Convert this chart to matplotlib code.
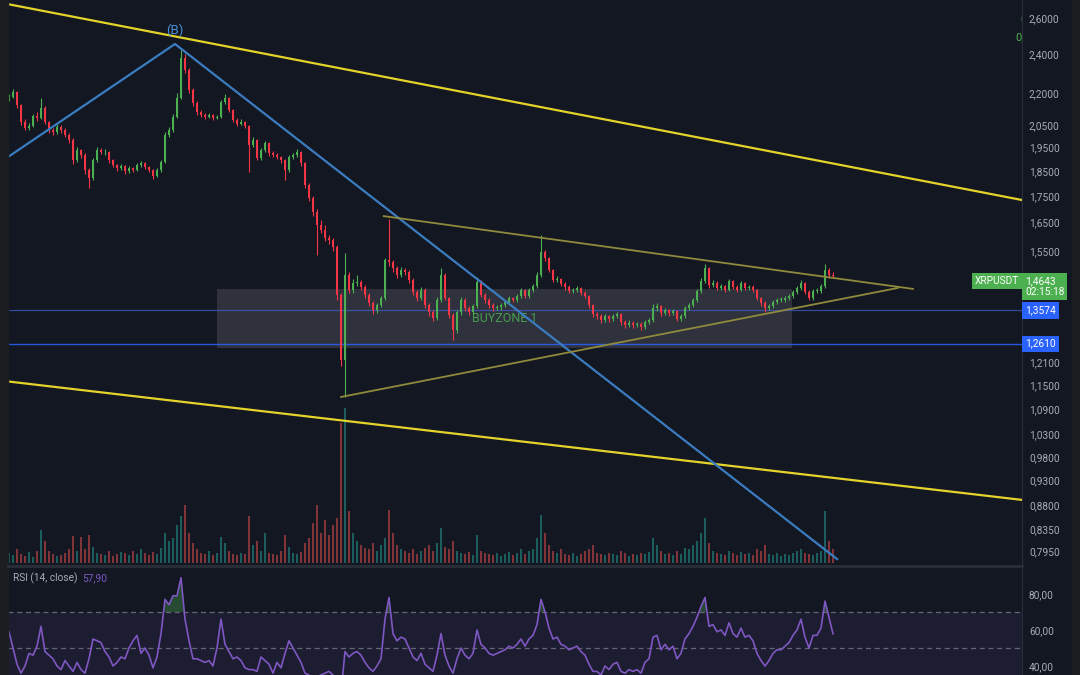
import matplotlib
matplotlib.use("Agg")
import matplotlib.pyplot as plt
import numpy as np
from matplotlib.patches import Rectangle
import matplotlib.ticker as mticker
import matplotlib.transforms as mtrans

plt.rcParams['font.family'] = ['Roboto', 'DejaVu Sans']

# ---------------- data ----------------
first_open = 2.170
closes = [2.182, 2.206, 2.143, 2.064, 2.036, 2.045, 2.091, 2.082, 2.129, 2.064,
          2.027, 2.018, 2.041, 2.027, 2.005, 1.982, 1.896, 1.939, 1.918, 1.854,
          1.822, 1.896, 1.939, 1.930, 1.930, 1.896, 1.875, 1.862, 1.871, 1.850,
          1.862, 1.854, 1.875, 1.883, 1.866, 1.854, 1.830, 1.854, 1.888, 2.005,
          2.027, 2.087, 2.177, 2.379, 2.316, 2.216, 2.153, 2.110, 2.096, 2.087,
          2.096, 2.082, 2.087, 2.157, 2.177, 2.119, 2.073, 2.054, 2.064, 2.045,
          1.961, 1.982, 1.905, 1.939, 1.969, 1.926, 1.918, 1.909, 1.896, 1.854,
          1.909, 1.918, 1.930, 1.883, 1.794, 1.743, 1.689, 1.641, 1.623, 1.594,
          1.587, 1.562, 1.405, 1.215, 1.469, 1.420, 1.442, 1.446, 1.430, 1.405,
          1.380, 1.358, 1.373, 1.395, 1.518, 1.511, 1.491, 1.469, 1.485, 1.478,
          1.452, 1.414, 1.395, 1.420, 1.373, 1.352, 1.334, 1.389, 1.469, 1.395,
          1.343, 1.299, 1.352, 1.389, 1.364, 1.352, 1.370, 1.446, 1.405, 1.389,
          1.373, 1.364, 1.367, 1.373, 1.383, 1.395, 1.389, 1.401, 1.420, 1.401,
          1.420, 1.433, 1.469, 1.545, 1.525, 1.485, 1.452, 1.455, 1.439, 1.430,
          1.417, 1.420, 1.426, 1.411, 1.401, 1.373, 1.346, 1.340, 1.328, 1.340,
          1.331, 1.340, 1.346, 1.322, 1.314, 1.320, 1.314, 1.317, 1.308, 1.322,
          1.328, 1.364, 1.370, 1.349, 1.358, 1.349, 1.355, 1.331, 1.340, 1.364,
          1.373, 1.389, 1.417, 1.449, 1.491, 1.436, 1.442, 1.426, 1.433, 1.420,
          1.449, 1.430, 1.420, 1.442, 1.426, 1.430, 1.420, 1.395, 1.380, 1.364,
          1.370, 1.383, 1.389, 1.389, 1.395, 1.401, 1.414, 1.426, 1.442, 1.414,
          1.395, 1.417, 1.417, 1.433, 1.485, 1.469, 1.4643]

highs = [2.195, 2.222, 2.212, 2.150, 2.075, 2.058, 2.100, 2.110, 2.177, 2.140,
         2.070, 2.035, 2.055, 2.050, 2.035, 2.012, 1.990, 1.950, 1.945, 1.925,
         1.862, 1.905, 1.950, 1.948, 1.942, 1.935, 1.902, 1.880, 1.880, 1.876,
         1.870, 1.868, 1.885, 1.892, 1.890, 1.872, 1.860, 1.862, 1.898, 2.020,
         2.040, 2.100, 2.200, 2.422, 2.400, 2.325, 2.225, 2.160, 2.118, 2.105,
         2.105, 2.102, 2.098, 2.165, 2.196, 2.182, 2.125, 2.080, 2.075, 2.070,
         2.050, 1.995, 1.988, 1.948, 1.978, 1.975, 1.935, 1.925, 1.915, 1.902,
         1.918, 1.928, 1.945, 1.936, 1.890, 1.800, 1.750, 1.700, 1.660, 1.640,
         1.605, 1.595, 1.570, 1.412, 1.542, 1.480, 1.455, 1.468, 1.452, 1.436,
         1.410, 1.386, 1.380, 1.402, 1.525, 1.663, 1.520, 1.498, 1.495, 1.492,
         1.484, 1.458, 1.420, 1.430, 1.426, 1.380, 1.360, 1.398, 1.491, 1.474,
         1.400, 1.350, 1.360, 1.398, 1.395, 1.370, 1.378, 1.462, 1.452, 1.412,
         1.395, 1.380, 1.375, 1.380, 1.390, 1.402, 1.400, 1.408, 1.428, 1.425,
         1.428, 1.440, 1.478, 1.605, 1.552, 1.530, 1.490, 1.465, 1.460, 1.445,
         1.436, 1.428, 1.434, 1.430, 1.416, 1.406, 1.378, 1.352, 1.346, 1.348,
         1.345, 1.348, 1.354, 1.350, 1.328, 1.328, 1.325, 1.324, 1.322, 1.330,
         1.336, 1.378, 1.380, 1.375, 1.366, 1.362, 1.362, 1.360, 1.348, 1.370,
         1.380, 1.396, 1.425, 1.458, 1.505, 1.496, 1.452, 1.448, 1.440, 1.438,
         1.456, 1.454, 1.436, 1.450, 1.446, 1.438, 1.436, 1.424, 1.400, 1.385,
         1.378, 1.390, 1.396, 1.398, 1.402, 1.408, 1.420, 1.434, 1.452, 1.446,
         1.420, 1.424, 1.426, 1.440, 1.505, 1.492, 1.478]

lows = [2.160, 2.175, 2.130, 2.050, 2.025, 2.028, 2.040, 2.070, 2.075, 2.055,
        2.015, 2.005, 2.010, 2.015, 1.995, 1.970, 1.880, 1.890, 1.905, 1.840,
        1.782, 1.815, 1.890, 1.920, 1.918, 1.885, 1.865, 1.852, 1.855, 1.840,
        1.843, 1.846, 1.850, 1.868, 1.858, 1.845, 1.818, 1.825, 1.848, 1.882,
        1.995, 2.020, 2.080, 2.170, 2.300, 2.200, 2.140, 2.098, 2.085, 2.078,
        2.080, 2.072, 2.075, 2.080, 2.150, 2.108, 2.062, 2.045, 2.048, 2.035,
        1.846, 1.950, 1.895, 1.898, 1.932, 1.915, 1.908, 1.900, 1.885, 1.814,
        1.848, 1.900, 1.910, 1.872, 1.780, 1.730, 1.675, 1.535, 1.612, 1.585,
        1.575, 1.550, 1.389, 1.200, 1.120, 1.410, 1.412, 1.432, 1.420, 1.395,
        1.370, 1.348, 1.350, 1.368, 1.390, 1.500, 1.480, 1.460, 1.462, 1.470,
        1.442, 1.405, 1.385, 1.388, 1.365, 1.342, 1.325, 1.330, 1.382, 1.388,
        1.335, 1.270, 1.292, 1.345, 1.356, 1.345, 1.346, 1.365, 1.398, 1.380,
        1.366, 1.356, 1.358, 1.360, 1.368, 1.378, 1.382, 1.384, 1.396, 1.394,
        1.396, 1.415, 1.428, 1.462, 1.515, 1.478, 1.445, 1.446, 1.432, 1.422,
        1.410, 1.410, 1.414, 1.404, 1.394, 1.366, 1.338, 1.332, 1.320, 1.322,
        1.324, 1.326, 1.334, 1.314, 1.306, 1.308, 1.306, 1.308, 1.300, 1.302,
        1.316, 1.322, 1.356, 1.342, 1.344, 1.342, 1.344, 1.325, 1.326, 1.336,
        1.358, 1.368, 1.384, 1.412, 1.444, 1.428, 1.430, 1.420, 1.420, 1.414,
        1.416, 1.424, 1.414, 1.416, 1.420, 1.420, 1.414, 1.388, 1.372, 1.352,
        1.360, 1.366, 1.378, 1.382, 1.384, 1.390, 1.396, 1.408, 1.420, 1.408,
        1.390, 1.390, 1.410, 1.412, 1.428, 1.460, 1.458]

volume_m = [10, 8, 14, 9, 7, 11, 6, 12, 33, 22,
            12, 9, 7, 8, 10, 14, 27, 12, 26, 14,
            28, 16, 10, 9, 8, 12, 7, 9, 11, 10,
            8, 12, 9, 14, 10, 8, 11, 9, 15, 30,
            22, 25, 38, 47, 58, 30, 20, 14, 10, 9,
            12, 8, 10, 26, 20, 12, 9, 8, 10, 9,
            47, 18, 22, 12, 30, 10, 9, 8, 12, 28,
            16, 10, 9, 11, 20, 25, 40, 58, 30, 43,
            28, 38, 45, 140, 155, 52, 30, 22, 18, 15,
            14, 20, 12, 18, 25, 53, 30, 18, 14, 12,
            10, 14, 9, 12, 15, 18, 12, 20, 35, 16,
            14, 22, 12, 10, 9, 11, 8, 28, 12, 10,
            9, 8, 10, 7, 9, 11, 8, 10, 14, 9,
            12, 14, 25, 48, 30, 18, 12, 10, 14, 9,
            8, 10, 7, 9, 12, 14, 18, 10, 9, 8,
            10, 9, 8, 12, 10, 7, 9, 8, 10, 9,
            11, 25, 18, 12, 9, 10, 8, 12, 9, 15,
            14, 18, 22, 30, 45, 20, 12, 10, 9, 8,
            12, 10, 8, 11, 9, 10, 8, 14, 12, 18,
            9, 8, 10, 7, 9, 8, 10, 12, 14, 10,
            9, 8, 10, 12, 52, 22, 14]

rsi_values = [59, 50, 41, 36, 40, 47, 46, 51, 62, 48,
              46, 44, 40, 38, 43, 40, 37, 42, 38, 36,
              44, 55, 54, 53, 48, 45, 40, 42, 45, 44,
              50, 54, 57, 47, 50, 46, 39, 45, 58, 77,
              74, 79, 79, 89, 66, 54, 44, 44, 43, 42,
              43, 40, 50, 66, 52, 48, 44, 45, 43, 39,
              38, 38, 37, 45, 43, 41, 36, 42, 39, 47,
              54, 50, 46, 42, 36, 35, 33, 34, 35, 36,
              37, 35, 30, 25, 48, 45, 47, 48, 46, 42,
              39, 37, 40, 44, 66, 78, 58, 54, 56, 55,
              50, 45, 43, 47, 41, 39, 37, 46, 58, 46,
              40, 36, 44, 50, 46, 44, 47, 60, 52, 50,
              47, 46, 47, 48, 49, 51, 50, 52, 55, 51,
              55, 57, 63, 77, 70, 61, 55, 56, 52, 51,
              49, 50, 51, 48, 46, 41, 37, 37, 35, 40,
              38, 41, 42, 37, 36, 38, 37, 38, 36, 42,
              44, 56, 57, 49, 52, 49, 51, 44, 47, 55,
              58, 62, 67, 73, 78, 62, 63, 59, 60, 57,
              64, 58, 56, 61, 56, 57, 54, 47, 43, 40,
              43, 47, 49, 49, 51, 53, 57, 60, 66, 56,
              50, 57, 57, 61, 76, 67, 57.9]

price_ticks = [2.6, 2.4, 2.2, 2.05, 1.95, 1.85, 1.75, 1.65, 1.55,
               1.21, 1.15, 1.09, 1.03, 0.98, 0.93, 0.88, 0.835, 0.795]
rsi_ticks = [80, 60, 40]
level_lines = [1.3574, 1.2610]
last_price = 1.4643
last_rsi = 57.90
countdown = "02:15:18"
symbol = "XRPUSDT"

# drawings (bar index, price)
channel_upper = [(0.0, 2.680), (253.25, 1.735)]
channel_lower = [(0.0, 1.159), (253.25, 0.891)]
wave_line = [(-0.25, 1.909), (41.5, 2.454), (207.25, 0.780)]
triangle_upper = [(93.7, 1.674), (226.0, 1.424)]
triangle_lower = [(83.0, 1.120), (222.2, 1.427)]
buyzone = {"x0": 52.0, "x1": 195.7, "low": 1.250, "high": 1.423, "label": "BUYZONE 1"}
wave_label = ("(B)", 41.5, 2.532)

# ---------------- style ----------------
BG = '#131722'
UP = '#4caf50'
DN = '#f23645'
TXT = '#a9acb5'
W, H = 1080, 675

n = min(len(closes), len(highs), len(lows), len(volume_m), len(rsi_values))
c = np.array(closes[:n])
o = np.concatenate([[first_open], c[:-1]])
h = np.array(highs[:n])
l = np.array(lows[:n])
v = np.array(volume_m[:n])
r = np.array(rsi_values[:n])
x = np.arange(n)
up = c >= o

fig = plt.figure(figsize=(W / 100, H / 100), dpi=100, facecolor=BG)

XL = (-0.25, 253.25)
left, width = 8 / W, 1014 / W

# volume pane (behind)
axv = fig.add_axes([left, 1 - 563 / H, width, 163 / H])
axv.set_facecolor(BG)
axv.bar(x, v, width=0.7, color=np.where(up, '#26a69a', '#ef5350'), alpha=0.5, linewidth=0)
axv.set_xlim(*XL)
axv.set_ylim(0, 163)
axv.axis('off')

# main price pane
ax = fig.add_axes([left, 1 - 565 / H, width, 565 / H])
ax.set_facecolor('none')
ax.set_yscale('log')
ax.set_xlim(*XL)
ax.set_ylim(0.771, 2.706)

# buy zone box
ax.add_patch(Rectangle((buyzone["x0"], buyzone["low"]), buyzone["x1"] - buyzone["x0"],
                       buyzone["high"] - buyzone["low"], facecolor='#787b86', alpha=0.28,
                       edgecolor='none', zorder=1))
ax.text((buyzone["x0"] + buyzone["x1"]) / 2, 1.334, buyzone["label"], color=UP, alpha=0.85,
        fontsize=9, ha='center', va='center', zorder=2)

# horizontal levels
ax.axhline(level_lines[0], color='#3d5fc4', lw=0.9, alpha=0.75, zorder=2)
ax.axhline(level_lines[1], color='#2962ff', lw=1.0, alpha=0.85, zorder=2)

# candles
cols = np.where(up, UP, DN)
ax.vlines(x, l, h, colors=cols, lw=0.8, zorder=3)
body_lo = np.minimum(o, c)
body_h = np.maximum(np.abs(c - o), 0.002)
ax.bar(x, body_h, bottom=body_lo, width=0.55, color=cols, linewidth=0, zorder=4)

# channel lines (yellow)
ax.axline(channel_upper[0], channel_upper[1], color='#e3d32a', lw=1.6, zorder=5)
ax.axline(channel_lower[0], channel_lower[1], color='#e3d32a', lw=1.6, zorder=5)

# wave lines (blue)
wx, wy = zip(*wave_line)
ax.plot(wx, wy, color='#3a7cc0', lw=1.6, zorder=5, solid_capstyle='butt')
ax.text(wave_label[1], wave_label[2], wave_label[0], color='#4a8fd6', fontsize=9.5,
        ha='center', va='center', zorder=6)

# triangle
for seg in (triangle_upper, triangle_lower):
    sx, sy = zip(*seg)
    ax.plot(sx, sy, color='#8f8a3c', lw=1.3, zorder=5)

# cut-off legend values top right
ax.text(1 - 2 / 1014, 1 - 20 / 565, "0", transform=ax.transAxes, color='#4caf50',
        fontsize=8, ha='left', va='center', clip_on=True)
ax.text(1 - 7 / 1014, 1 - 37 / 565, "0,0", transform=ax.transAxes, color='#4caf50',
        fontsize=8, ha='left', va='center', clip_on=True)

# axes styling
ax.yaxis.tick_right()
ax.yaxis.set_major_locator(mticker.FixedLocator(price_ticks))
ax.yaxis.set_minor_locator(mticker.NullLocator())
ax.yaxis.set_major_formatter(mticker.FuncFormatter(lambda val, pos: f"{val:.4f}".replace('.', ',')))
ax.tick_params(axis='y', length=0, pad=5, labelsize=7.3, labelcolor=TXT)
ax.set_xticks([])
for s in ax.spines.values():
    s.set_visible(False)
ax.spines['right'].set_visible(True)
ax.spines['right'].set_color('#2a2e39')

# axis tags
blend = mtrans.blended_transform_factory(ax.transAxes, ax.transData)
for lv in level_lines:
    ax.text(1 + 3 / 1014, lv, f"{lv:.4f}".replace('.', ','), transform=blend, color='white',
            fontsize=7.3, ha='left', va='center', clip_on=False, zorder=10,
            bbox=dict(boxstyle='square,pad=0.3', fc='#2962ff', ec='none'))
ax.text(1 + 3 / 1014, last_price, f"{last_price:.4f}".replace('.', ',') + "\n" + countdown,
        transform=blend, color='white', fontsize=7.3, ha='left', va='top', clip_on=False,
        zorder=10, linespacing=1.05,
        bbox=dict(boxstyle='square,pad=0.3', fc='#4caf50', ec='none'))
ax.text(1 - 3 / 1014, last_price, symbol, transform=blend, color='white', fontsize=7.3,
        ha='right', va='top', clip_on=False, zorder=10,
        bbox=dict(boxstyle='square,pad=0.3', fc='#4caf50', ec='none'))

# RSI pane
axr = fig.add_axes([left, 0, width, 107 / H])
axr.set_facecolor(BG)
axr.set_xlim(*XL)
axr.set_ylim(35, 94.4)
axr.axhspan(30, 70, color='#7e57c2', alpha=0.10, lw=0)
for lv in (70, 50):
    axr.axhline(lv, color='#787b86', lw=0.9, ls=(0, (4, 3)), alpha=0.8)
axr.fill_between(x, r, 70, where=r >= 70, interpolate=True, color='#4caf50', alpha=0.35, lw=0)
axr.plot(x, r, color='#7e57c2', lw=1.2)
axr.yaxis.tick_right()
axr.set_yticks(rsi_ticks)
axr.yaxis.set_major_formatter(mticker.FuncFormatter(lambda val, pos: f"{val:.2f}".replace('.', ',')))
axr.tick_params(axis='y', length=0, pad=5, labelsize=7.3, labelcolor=TXT)
axr.set_xticks([])
for s in axr.spines.values():
    s.set_visible(False)
axr.spines['right'].set_visible(True)
axr.spines['right'].set_color('#2a2e39')
axr.text(5 / 1014, 1 - 10 / 107, "RSI (14, close)", transform=axr.transAxes, color=TXT,
         fontsize=7.3, ha='left', va='center')
axr.text(74 / 1014, 1 - 10 / 107, f"{last_rsi:.2f}".replace('.', ','), transform=axr.transAxes,
         color='#7e57c2', fontsize=7.3, ha='left', va='center')

# pane separator and side strips
fig.add_artist(plt.Line2D([left, left + width], [1 - 566 / H, 1 - 566 / H],
                          transform=fig.transFigure, color='#2a2e39', lw=2))
fig.add_artist(Rectangle((0, 0), 8 / W, 1, transform=fig.transFigure, color='#1c1d20'))
fig.add_artist(Rectangle((1072 / W, 0), 8 / W, 1, transform=fig.transFigure, color='#1c1d20'))

fig.savefig('out.png', dpi=100, facecolor=BG)
